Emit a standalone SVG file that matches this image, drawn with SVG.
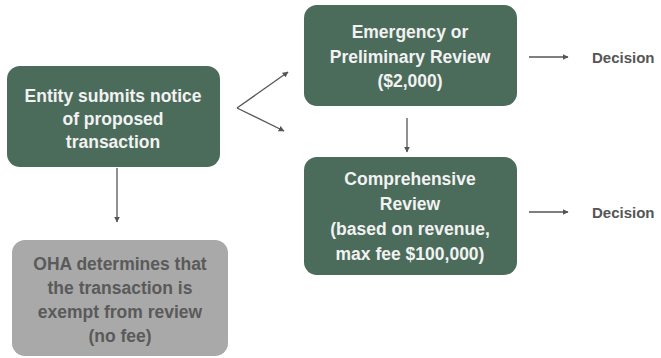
<svg xmlns="http://www.w3.org/2000/svg" width="661" height="358" viewBox="0 0 661 358">
<defs>
<marker id="ah" viewBox="0 0 10 10" refX="9" refY="5" markerWidth="6" markerHeight="6" markerUnits="userSpaceOnUse" orient="auto">
<path d="M0,0 L10,5 L0,10 z" fill="#555"/>
</marker>
</defs>
<style>
.g{fill:#4b6b5b}
.gr{fill:#a9a9a9}
.t{font-family:"Liberation Sans",Arial,sans-serif;font-weight:bold;font-size:17.5px;text-anchor:middle;fill:#f2f2f2}
.tg{fill:#5a5a5a}
.d{font-family:"Liberation Sans",Arial,sans-serif;font-weight:bold;font-size:15px;fill:#555}
.c{stroke:#555;stroke-width:1.3;fill:none;marker-end:url(#ah)}
</style>
<rect width="661" height="358" fill="#fff"/>
<g id="entity">
<rect class="g" x="7" y="66" width="213" height="101" rx="13"/>
<text class="t" x="113" y="102">Entity submits notice</text>
<text class="t" x="113" y="125">of proposed</text>
<text class="t" x="113" y="148">transaction</text>
</g>
<g id="emergency">
<rect class="g" x="304" y="5" width="213" height="101" rx="13"/>
<text class="t" x="410" y="38">Emergency or</text>
<text class="t" x="410" y="63">Preliminary Review</text>
<text class="t" x="410" y="87">($2,000)</text>
</g>
<g id="comprehensive">
<rect class="g" x="304" y="157" width="213" height="118" rx="13"/>
<text class="t" x="410" y="185">Comprehensive</text>
<text class="t" x="410" y="210">Review</text>
<text class="t" x="410" y="235">(based on revenue,</text>
<text class="t" x="410" y="260">max fee $100,000)</text>
</g>
<g id="exempt">
<rect class="gr" x="12" y="240" width="216" height="116" rx="13"/>
<text class="t tg" x="120" y="270">OHA determines that</text>
<text class="t tg" x="120" y="294">the transaction is</text>
<text class="t tg" x="120" y="318">exempt from review</text>
<text class="t tg" x="120" y="342">(no fee)</text>
</g>
<g id="decision1"><text class="d" x="592" y="63">Decision</text></g>
<g id="decision2"><text class="d" x="592" y="218">Decision</text></g>
<g id="connectors">
<path class="c" d="M117,168 L117,222"/>
<path class="c" d="M237,108 L288,72"/>
<path class="c" d="M237,108 L284,131"/>
<path class="c" d="M407,118 L407,152"/>
<path class="c" d="M529,57 L568,57"/>
<path class="c" d="M529,212 L568,212"/>
</g>
</svg>
